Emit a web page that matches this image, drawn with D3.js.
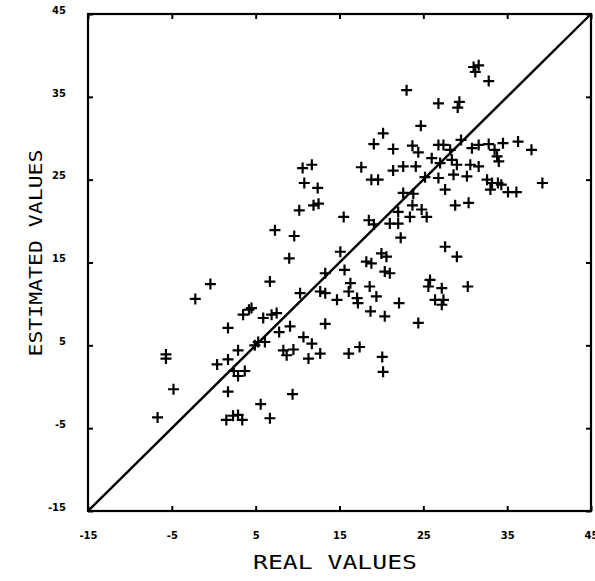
<!DOCTYPE html>
<html>
<head>
<meta charset="utf-8">
<script src="https://cdn.jsdelivr.net/npm/d3@7"></script>
<style>
  html, body { margin: 0; padding: 0; background: #fff; }
  svg { display: block; }
</style>
</head>
<body>
<svg id="chart" width="595" height="581"></svg>
<script>
const xTicks = [-15, -5, 5, 15, 25, 35, 45];
const yTicks = [-15, -5, 5, 15, 25, 35, 45];
const xTitle = "REAL VALUES";
const yTitle = "ESTIMATED VALUES";

const realValues = [
  23.0, 26.8, 24.7, 20.2, 19.1, 21.4, 23.7, 24.4, 26.8, 26.0,
  17.6, 22.6, 24.1, 21.4, 18.8, 19.6, 25.2, 26.8, 27.6, 10.6,
  11.7, 10.8, 12.4, 11.9, 12.5, 10.2, 7.3, 9.6, 15.5, 18.5,
  19.1, 22.6, 23.8, 23.7, 24.8, 22.0, 23.4, 25.4, 21.0, 22.0,
  22.3, 27.6, 31.0, 31.6, 31.2, 32.8, 29.3, 29.1, 29.5, 27.4,
  28.2, 30.8, 31.6, 32.8, 34.5, 36.3, 37.9, 33.5, 33.8, 34.0,
  27.0, 28.4, 29.0, 30.6, 31.6, 28.6, 30.2, 32.6, 33.2, 33.9,
  34.3, 35.1, 36.1, 33.0, 39.2, 28.8, 30.4, 9.0, 15.1, 13.3,
  15.6, 18.2, 18.8, 20.0, 20.6, 20.4, 21.0, 6.7, 10.3, 12.7,
  13.3, 14.7, 16.3, 16.1, 17.1, 17.2, 18.6, 19.4, 18.7, 20.4,
  22.1, 24.4, 25.8, 25.6, 27.2, 26.4, 27.4, 27.2, 4.5, 5.9,
  6.9, 7.5, 9.1, 7.8, 5.3, 4.9, 6.1, 8.3, 8.7, 9.5,
  10.7, 11.7, 12.7, 11.3, 13.3, 16.1, 17.4, 20.1, 20.2, 9.4,
  5.6, 6.7, 29.0, 30.3, -0.4, -2.2, 1.7, 3.5, 4.2, 2.9,
  1.7, 0.4, 2.4, 2.9, 3.7, 1.7, -5.7, -5.7, -4.8, -6.7,
  1.5, 2.3, 2.9, 3.4
];
const estimatedValues = [
  35.8, 34.2, 31.5, 30.6, 29.3, 28.7, 29.1, 28.3, 29.2, 27.6,
  26.5, 26.6, 26.6, 26.1, 25.0, 25.0, 25.3, 25.2, 23.8, 26.4,
  26.8, 24.6, 24.0, 21.9, 22.1, 21.3, 18.9, 18.2, 20.5, 20.1,
  19.6, 23.4, 23.3, 21.9, 21.4, 21.1, 20.5, 20.5, 19.7, 19.7,
  18.0, 16.9, 38.6, 38.8, 38.0, 36.9, 34.4, 33.7, 29.8, 29.2,
  28.6, 28.8, 29.2, 29.3, 29.4, 29.6, 28.6, 28.6, 27.8, 27.2,
  27.0, 27.4, 26.8, 26.8, 26.6, 25.6, 25.4, 25.0, 24.6, 24.6,
  24.4, 23.5, 23.5, 23.8, 24.6, 21.9, 22.2, 15.5, 16.3, 13.7,
  14.1, 15.1, 14.9, 16.1, 15.7, 13.9, 13.7, 12.7, 11.3, 11.5,
  11.3, 10.5, 12.5, 11.5, 10.7, 10.1, 12.1, 10.9, 9.1, 8.5,
  10.1, 7.7, 12.9, 12.1, 11.9, 10.5, 10.5, 9.9, 9.5, 8.3,
  8.7, 8.9, 7.3, 6.6, 5.4, 5.0, 5.4, 4.4, 3.8, 4.5,
  6.0, 5.2, 4.0, 3.4, 7.6, 4.0, 4.8, 3.6, 1.8, -0.9,
  -2.1, -3.8, 15.7, 12.1, 12.4, 10.6, 7.1, 8.7, 9.3, 4.4,
  3.3, 2.7, 1.9, 1.3, 1.9, -0.6, 3.9, 3.4, -0.3, -3.7,
  -4.0, -3.5, -3.4, -4.0
];

(function () {
  const points = realValues.map((v, i) => ({ x: v, y: estimatedValues[i] }));

  const svg = d3.select("#chart");
  const mLeft = 88, mRight = 591, mTop = 14, mBottom = 511;

  const x = d3.scaleLinear().domain([-15, 45]).range([mLeft, mRight]);
  const y = d3.scaleLinear().domain([-15, 45]).range([mBottom, mTop]);

  const fmt = d => String(d);
  const labelFont = "DejaVu Sans, sans-serif";

  const gx = svg.append("g").attr("transform", `translate(0,${mBottom})`)
    .call(d3.axisBottom(x).tickValues(xTicks).tickFormat(fmt).tickSize(-5).tickSizeOuter(0).tickPadding(21));
  const gy = svg.append("g").attr("transform", `translate(${mLeft},0)`)
    .call(d3.axisLeft(y).tickValues(yTicks).tickFormat(fmt).tickSize(-5).tickSizeOuter(0).tickPadding(22));
  const gt = svg.append("g").attr("transform", `translate(0,${mTop})`)
    .call(d3.axisTop(x).tickValues(xTicks).tickFormat("").tickSize(-5).tickSizeOuter(0));
  const gr = svg.append("g").attr("transform", `translate(${mRight},0)`)
    .call(d3.axisRight(y).tickValues(yTicks).tickFormat("").tickSize(-5).tickSizeOuter(0));

  [gx, gy, gt, gr].forEach(g => {
    g.select(".domain").remove();
    g.selectAll(".tick line").attr("stroke", "#000").attr("stroke-width", 2);
    g.selectAll(".tick text")
      .attr("fill", "#000")
      .attr("font-family", labelFont)
      .attr("font-weight", "bold")
      .attr("font-size", 10);
  });
  gy.selectAll(".tick text").attr("dy", "-0.08em");

  svg.append("rect")
    .attr("x", mLeft).attr("y", mTop)
    .attr("width", mRight - mLeft).attr("height", mBottom - mTop)
    .attr("fill", "none").attr("stroke", "#000").attr("stroke-width", 2.2);

  svg.append("line")
    .attr("x1", x(-15)).attr("y1", y(-15))
    .attr("x2", x(45)).attr("y2", y(45))
    .attr("stroke", "#000").attr("stroke-width", 2.4);

  const s = 5.5;
  svg.append("g").attr("stroke", "#000")
    .selectAll("path").data(points).join("path")
    .attr("d", d => {
      const cx = x(d.x), cy = y(d.y);
      return `M${cx - s},${cy}H${cx + s}M${cx},${cy - s}V${cy + s}`;
    })
    .attr("stroke-width", 2.2)
    .attr("fill", "none");

  svg.append("text")
    .attr("x", 335).attr("y", 569)
    .attr("text-anchor", "middle")
    .attr("font-family", "DejaVu Sans Mono, monospace")
    .attr("font-size", 19)
    .attr("textLength", 164).attr("lengthAdjust", "spacingAndGlyphs")
    .attr("fill", "#000")
    .text(xTitle);

  svg.append("text")
    .attr("transform", "translate(42,253) rotate(-90)")
    .attr("text-anchor", "middle")
    .attr("font-family", "DejaVu Sans Mono, monospace")
    .attr("font-size", 18)
    .attr("textLength", 207).attr("lengthAdjust", "spacingAndGlyphs")
    .attr("fill", "#000")
    .text(yTitle);
})();
</script>
</body>
</html>
